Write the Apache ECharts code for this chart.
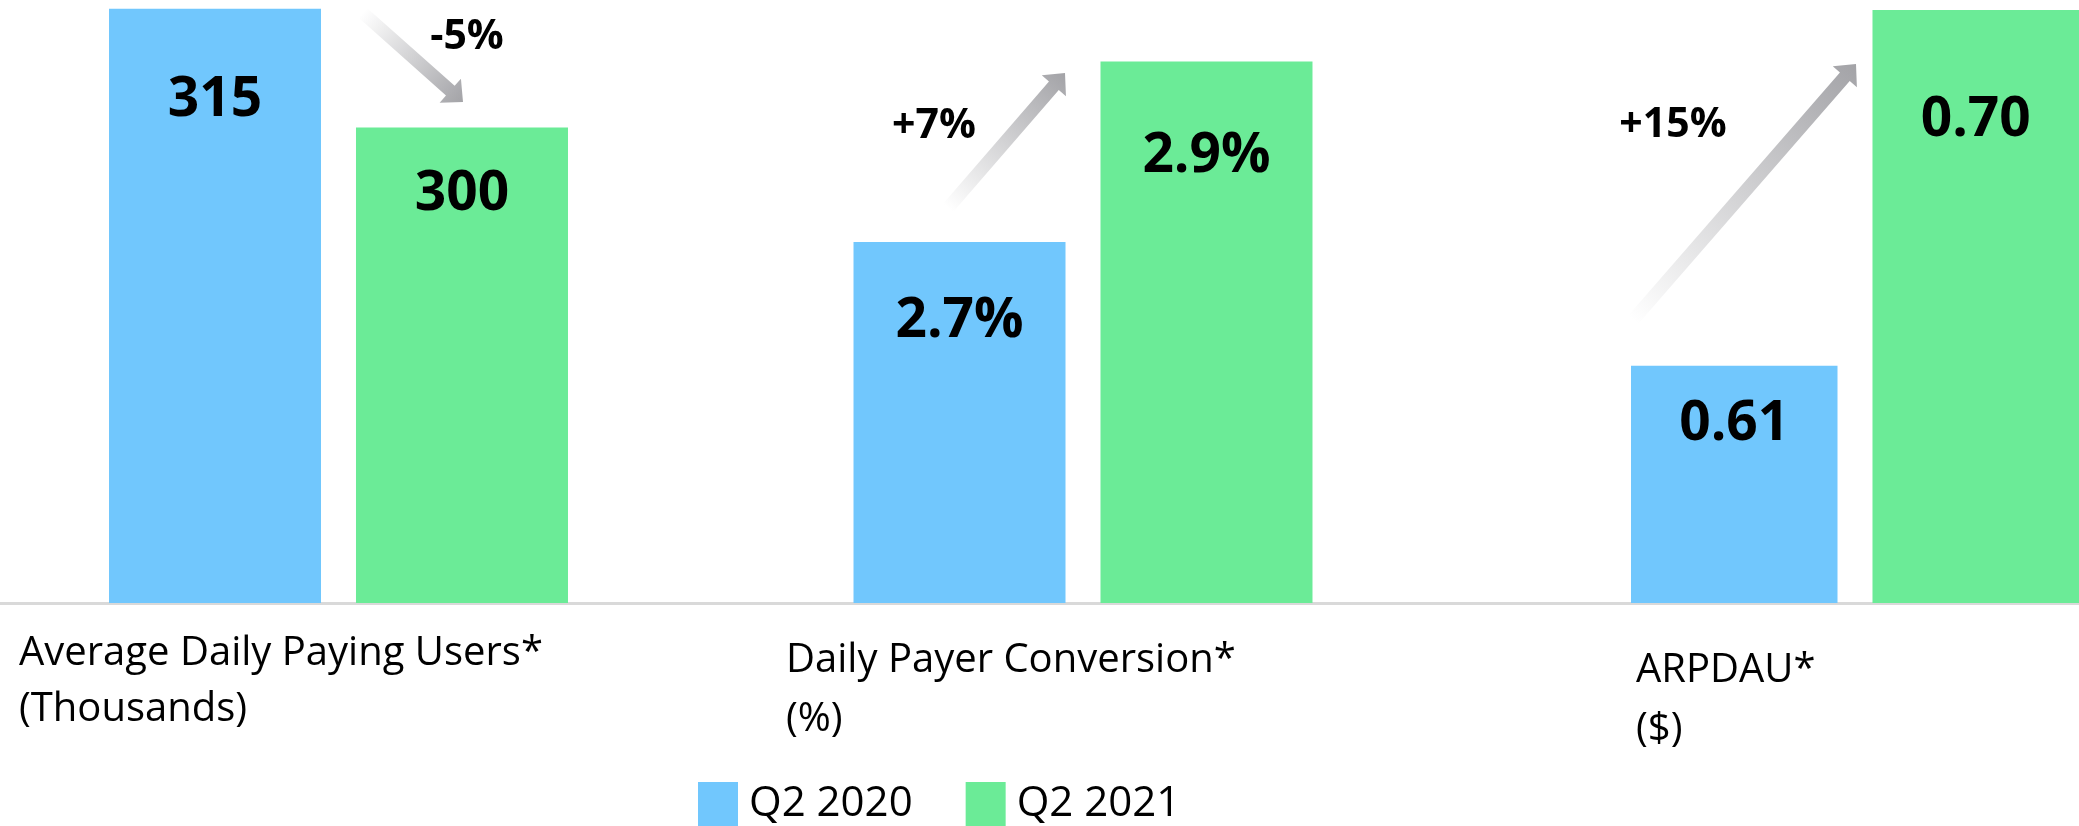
<!DOCTYPE html>
<html>
<head>
<meta charset="utf-8">
<title>Q2 2020 vs Q2 2021</title>
<script src="https://cdn.jsdelivr.net/npm/echarts@6/dist/echarts.min.js"></script>
<style>
    html, body { margin: 0; padding: 0; background: #fff; }
    #chart { width: 2079px; height: 826px; }
</style>
</head>
<body>
<div id="chart"></div>
<script>
    // data
    const categories = ['Average Daily Paying Users*\n(Thousands)', 'Daily Payer Conversion*\n(%)', 'ARPDAU*\n($)'];
    const seriesNames = ['Q2 2020', 'Q2 2021'];
    const q2020 = [315, 2.7, 0.61];
    const q2021 = [300, 2.9, 0.70];
    const changes = ['-5%', '+7%', '+15%'];

    const colors = ['#71c7fd', '#6beb97'];
    const fmt = [
        v => v.toFixed(0),
        v => v.toFixed(1) + '%',
        v => v.toFixed(2)
    ];

    // layout of the three small panels (pixels / axis ranges)
    const panels = [
        { left: 0, width: 677, min: 240, max: 316.1, catX: 19, catY: 626, catLH: 56, dy: [92, 67],
          chg: [467, 37], arrow: [[363, 13], [463, 102]] },
        { left: 677, width: 812, min: 2.3, max: 2.968, catX: 786, catY: 631, catLH: 59, dy: [79, 95],
          chg: [934, 126], arrow: [[948, 208], [1065, 73]] },
        { left: 1631, width: 448, min: 0.55, max: 0.7025, catX: 1636, catY: 641, catLH: 59, dy: [59, 110],
          chg: [1673, 125], arrow: [[1633, 320], [1856, 64]] }
    ];

    const font = '"Open Sans", "Noto Sans", sans-serif';

    function arrowPoints(t, p, w, hw, hl) {
        let dx = p[0] - t[0], dy = p[1] - t[1];
        let len = Math.sqrt(dx * dx + dy * dy);
        dx /= len; dy /= len;
        let nx = -dy, ny = dx;
        let b = [p[0] - dx * hl, p[1] - dy * hl];
        return [
            [t[0] + nx * w / 2, t[1] + ny * w / 2],
            [b[0] + nx * w / 2, b[1] + ny * w / 2],
            [b[0] + nx * hw / 2, b[1] + ny * hw / 2],
            p,
            [b[0] - nx * hw / 2, b[1] - ny * hw / 2],
            [b[0] - nx * w / 2, b[1] - ny * w / 2],
            [t[0] - nx * w / 2, t[1] - ny * w / 2]
        ];
    }

    let chart = echarts.init(document.getElementById('chart'));

    // grid 0: only the long baseline across the whole width
    let grid = [{ left: 0, right: 0, top: 0, bottom: 223 }];
    let xAxis = [{
        type: 'value', gridIndex: 0, min: 0, max: 1,
        axisLine: { show: true, onZero: false, lineStyle: { color: '#d9d9d9', width: 3 } },
        axisTick: { show: false }, axisLabel: { show: false }, splitLine: { show: false }
    }];
    let yAxis = [{ type: 'value', gridIndex: 0, show: false, splitLine: { show: false } }];
    let series = [], title = [], graphic = [];

    panels.forEach((p, k) => {
        let i = k + 1;
        grid.push({ left: p.left, width: p.width, top: 0, bottom: 223 });
        xAxis.push({
            type: 'category',
            gridIndex: i,
            data: [categories[k]],
            axisLine: { show: false },
            axisTick: { show: false },
            axisLabel: { show: false }
        });
        yAxis.push({ type: 'value', gridIndex: i, min: p.min, max: p.max, show: false, splitLine: { show: false } });

        [q2020, q2021].forEach((arr, s) => {
            series.push({
                name: seriesNames[s],
                type: 'bar',
                xAxisIndex: i,
                yAxisIndex: i,
                barWidth: 212,
                barGap: '16.5%',
                itemStyle: { color: colors[s] },
                label: {
                    show: true,
                    position: ['50%', p.dy[s]],
                    align: 'center',
                    verticalAlign: 'middle',
                    fontFamily: font,
                    fontSize: 55,
                    fontWeight: 'bold',
                    color: '#000',
                    formatter: d => fmt[k](d.value)
                },
                data: [arr[k]]
            });
        });

        title.push({
            text: categories[k],
            left: p.catX,
            top: p.catY,
            padding: 0,
            textStyle: { fontFamily: font, fontSize: 40, fontWeight: 'normal', color: '#000', lineHeight: p.catLH }
        });

        let t = p.arrow[0], h = p.arrow[1];
        graphic.push({
            type: 'polygon',
            shape: { points: arrowPoints(t, h, 13, 32, 17) },
            style: {
                fill: {
                    type: 'linear', x: t[0], y: t[1], x2: h[0], y2: h[1], global: true,
                    colorStops: [{ offset: 0, color: '#ffffff' }, { offset: 1, color: '#a3a3a7' }]
                }
            },
            z: 10
        });
        graphic.push({
            type: 'text',
            x: p.chg[0],
            y: p.chg[1],
            style: {
                text: changes[k],
                fill: '#000',
                font: 'bold 41px ' + font,
                textAlign: 'center',
                textVerticalAlign: 'middle'
            },
            z: 10
        });
    });

    chart.setOption({
        backgroundColor: '#fff',
        animation: false,
        title: title,
        legend: {
            data: seriesNames,
            left: 698,
            top: 782,
            padding: 0,
            icon: 'rect',
            itemWidth: 40,
            itemHeight: 44,
            itemGap: 53,
            textStyle: { fontFamily: font, fontSize: 42, color: '#000', padding: [0, 0, 0, 6] }
        },
        grid: grid,
        xAxis: xAxis,
        yAxis: yAxis,
        series: series,
        graphic: graphic
    });
</script>
</body>
</html>
